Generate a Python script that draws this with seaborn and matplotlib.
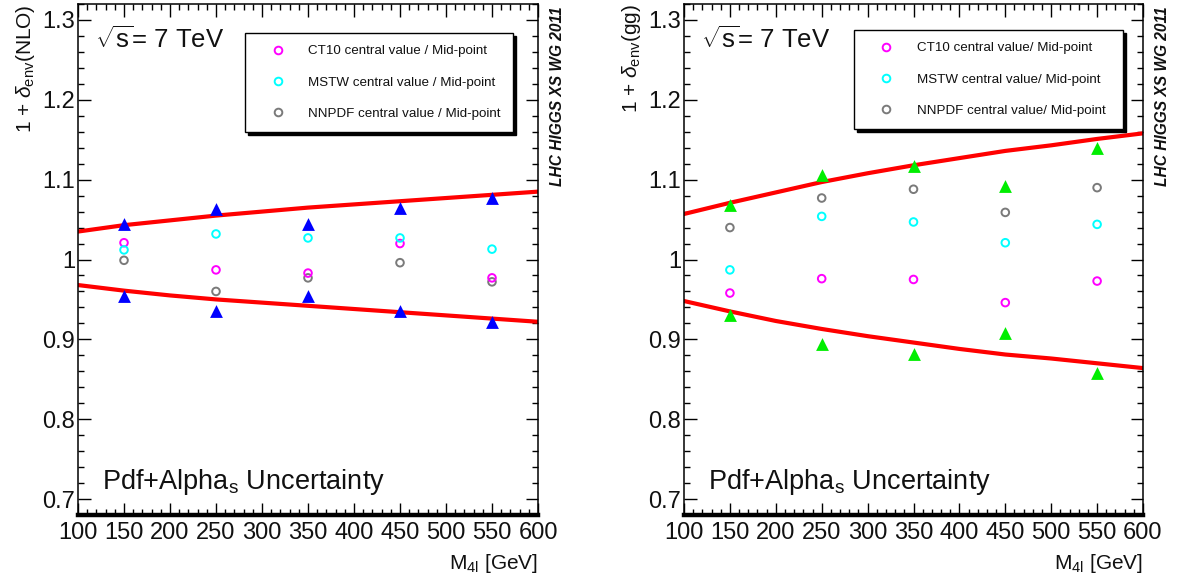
import numpy as np
import pandas as pd
import matplotlib
matplotlib.use("Agg")
import matplotlib.pyplot as plt
import seaborn as sns
from matplotlib.ticker import MultipleLocator
from matplotlib.lines import Line2D

# ---------------- data ----------------
masses = [150, 250, 350, 450, 550]
curve_x = [100, 150, 200, 250, 300, 350, 400, 450, 500, 550, 600]

# left panel: 1 + delta_env(NLO)
nlo_ct10 = [1.021, 0.987, 0.983, 1.020, 0.977]
nlo_mstw = [1.012, 1.032, 1.027, 1.027, 1.013]
nlo_nnpdf = [0.999, 0.960, 0.977, 0.996, 0.972]
nlo_tri_up = [1.045, 1.063, 1.045, 1.064, 1.077]
nlo_tri_dn = [0.954, 0.935, 0.954, 0.935, 0.922]
nlo_env_up = [1.035, 1.043, 1.049, 1.055, 1.060, 1.065, 1.069, 1.073, 1.077, 1.081, 1.085]
nlo_env_dn = [0.968, 0.961, 0.955, 0.950, 0.946, 0.942, 0.938, 0.934, 0.930, 0.926, 0.922]

# right panel: 1 + delta_env(gg)
gg_ct10 = [0.958, 0.976, 0.975, 0.946, 0.973]
gg_mstw = [0.987, 1.054, 1.047, 1.021, 1.044]
gg_nnpdf = [1.040, 1.077, 1.088, 1.059, 1.090]
gg_tri_up = [1.068, 1.106, 1.117, 1.092, 1.140]
gg_tri_dn = [0.930, 0.894, 0.882, 0.908, 0.858]
gg_env_up = [1.057, 1.071, 1.084, 1.097, 1.108, 1.118, 1.127, 1.136, 1.143, 1.151, 1.158]
gg_env_dn = [0.948, 0.935, 0.923, 0.913, 0.904, 0.896, 0.888, 0.881, 0.876, 0.870, 0.864]

legend_nlo = ["CT10 central value / Mid-point", "MSTW central value / Mid-point",
              "NNPDF central value / Mid-point"]
legend_gg = ["CT10 central value/ Mid-point", "MSTW central value/ Mid-point",
             "NNPDF central value/ Mid-point"]

# ---------------- style ----------------
sns.set_theme(style="ticks")
plt.rcParams["font.family"] = ["Liberation Sans", "DejaVu Sans"]
plt.rcParams["mathtext.fontset"] = "custom"
plt.rcParams["mathtext.rm"] = "Liberation Sans"
plt.rcParams["mathtext.it"] = "Liberation Sans:italic"
plt.rcParams["mathtext.bf"] = "Liberation Sans:bold"
plt.rcParams["mathtext.sf"] = "Liberation Sans"

W, H = 1177, 583
fig = plt.figure(figsize=(W / 100, H / 100), dpi=100)
fig.patch.set_facecolor("white")

def px_axes(x0, y0, x1, y1):
    return fig.add_axes([x0 / W, 1 - y1 / H, (x1 - x0) / W, (y1 - y0) / H])

ax_l = px_axes(78, 4, 538, 515)
ax_r = px_axes(684, 4, 1143, 515)

c_ct10 = "#ff00ff"
c_mstw = "#00ffff"
c_nnpdf = "#7a7a7a"
txt = "#111111"

def panel(ax, ct10, mstw, nnpdf, tri_up, tri_dn, env_up, env_dn, tri_color,
          ylabel, leg_labels, leg_box):
    sns.lineplot(x=curve_x, y=env_up, color="red", lw=3.0, ax=ax, zorder=2)
    sns.lineplot(x=curve_x, y=env_dn, color="red", lw=3.0, ax=ax, zorder=2)
    for yy in (tri_up, tri_dn):
        sns.scatterplot(x=masses, y=yy, marker="^", color=tri_color, s=85,
                        linewidth=0, ax=ax, zorder=3)
    for yy, cc in ((nnpdf, c_nnpdf), (ct10, c_ct10), (mstw, c_mstw)):
        sns.scatterplot(x=masses, y=yy, marker="o", color=cc, s=30,
                        linewidth=1.4, ax=ax, zorder=4)
        coll = ax.collections[-1]
        coll.set_facecolor("none")
        coll.set_edgecolor(cc)

    ax.set_xlim(100, 600)
    ax.set_ylim(0.68, 1.32)
    ax.xaxis.set_major_locator(MultipleLocator(50))
    ax.xaxis.set_minor_locator(MultipleLocator(10))
    ax.yaxis.set_major_locator(MultipleLocator(0.1))
    ax.yaxis.set_minor_locator(MultipleLocator(0.02))
    ax.set_yticks([0.7, 0.8, 0.9, 1.0, 1.1, 1.2, 1.3])
    ax.set_yticklabels(["0.7", "0.8", "0.9", "1", "1.1", "1.2", "1.3"])
    ax.tick_params(which="both", direction="in", top=True, right=True,
                   color="black", width=1.0, labelsize=17, labelcolor=txt)
    ax.tick_params(which="major", length=9)
    ax.tick_params(which="minor", length=4.5)
    ax.tick_params(axis="x", which="major", pad=5)
    ax.tick_params(axis="y", which="major", pad=2)
    for sp in ax.spines.values():
        sp.set_visible(True)
        sp.set_color("black")
        sp.set_linewidth(1.1)
    ax.spines["bottom"].set_linewidth(3.2)
    ax.grid(False)

    ax.set_ylabel(ylabel, fontsize=15, loc="top", labelpad=4, color=txt)
    ax.set_xlabel(r"M$_{\mathrm{4l}}$ [GeV]", fontsize=15, loc="right",
                  labelpad=6, color=txt)

    ax.text(0.037, 0.93, r"$\sqrt{\mathrm{s}}$= 7 TeV", transform=ax.transAxes,
            fontsize=18.5, va="center", ha="left", color=txt)
    ax.text(0.053, 0.05, r"Pdf+Alpha$_{\mathrm{s}}$ Uncertainty",
            transform=ax.transAxes, fontsize=19.5, va="baseline", ha="left",
            color=txt)
    ax.text(1.042, 0.995, "LHC HIGGS XS WG 2011", transform=ax.transAxes,
            rotation=90, fontsize=11.2, fontweight="bold", fontstyle="italic",
            va="top", ha="center", color=txt)

    handles = [Line2D([], [], ls="none", marker="o", ms=5.5, mew=1.4,
                      mfc="none", mec=c) for c in (c_ct10, c_mstw, c_nnpdf)]
    leg = ax.legend(handles, leg_labels, loc="upper left",
                    bbox_to_anchor=leg_box, mode="expand", borderaxespad=0,
                    prop={"size": 9.6, "weight": "medium"}, frameon=True,
                    fancybox=False, shadow={"color": "black", "alpha": 1.0},
                    edgecolor="black", framealpha=1, borderpad=0.9,
                    handlelength=3.1, handletextpad=0.75, labelspacing=1.42)
    leg.get_frame().set_linewidth(1.0)
    for t in leg.get_texts():
        t.set_color(txt)

panel(ax_l, nlo_ct10, nlo_mstw, nlo_nnpdf, nlo_tri_up, nlo_tri_dn,
      nlo_env_up, nlo_env_dn, "#0000ff", r"1 + $\delta_{\mathrm{env}}$(NLO)",
      legend_nlo, (0.363, 0.943, 0.583, 0.0))
panel(ax_r, gg_ct10, gg_mstw, gg_nnpdf, gg_tri_up, gg_tri_dn,
      gg_env_up, gg_env_dn, "#00ee00", r"1 + $\delta_{\mathrm{env}}$(gg)",
      legend_gg, (0.370, 0.949, 0.586, 0.0))

fig.savefig("out.png", dpi=100, facecolor="white")
